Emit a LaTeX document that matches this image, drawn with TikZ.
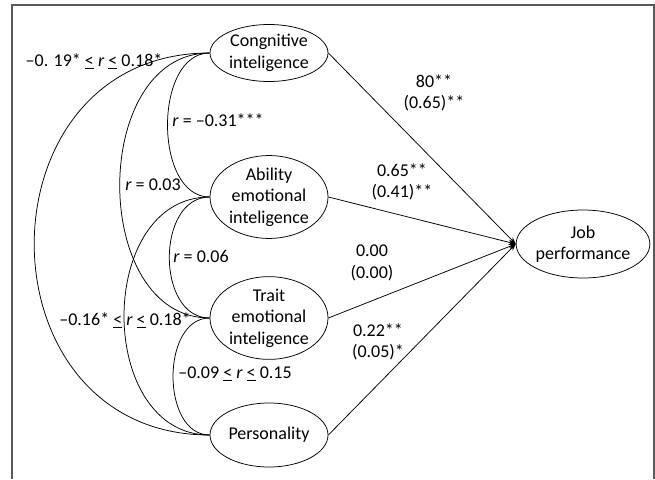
\documentclass[tikz,border=0pt]{standalone}
\usepackage{fontspec}
\setmainfont{Carlito}
\usetikzlibrary{shapes.geometric,arrows.meta}

\begin{document}
\begin{tikzpicture}[x=1pt,y=-1pt,line width=0.75pt,
  var/.style={draw,ellipse,inner sep=0pt,minimum width=118pt,align=center,font=\fontsize{18}{21.5}\selectfont},
  lab/.style={inner sep=0pt,align=center,font=\fontsize{18}{21.5}\selectfont},
  effect/.style={-{Stealth[length=7pt,width=5pt]}},
  corr/.style={out=180,in=180}]
\useasboundingbox (0,0) rectangle (655,479);
\draw[gray!70!black,line width=1.3pt] (12,479) -- (12,5) -- (654,5) -- (654,479);

\node[var,minimum height=57pt] (cog) at (269,53) {Congnitive\\inteligence};
\node[var,minimum height=80pt] (abil) at (269,197) {Ability\\emotional\\inteligence};
\node[var,minimum height=81pt] (trait) at (269,318) {Trait\\emotional\\inteligence};
\node[var,minimum height=64pt] (pers) at (269,435) {Personality};
\node[var,minimum width=119pt,minimum height=68pt] (job) at (583,244) {Job\\performance};

\node[lab] (c1) at (94,61) {–0. 19* \underline{<} \textit{r} \underline{<} 0.18*};
\node[lab] (c2) at (218,120) {\textit{r} = –0.31***};
\node[lab] (c3) at (153,185) {\textit{r} = 0.03};
\node[lab] (c4) at (201,256) {\textit{r} = 0.06};
\node[lab] (c5) at (125,320) {–0.16* \underline{<} \textit{r} \underline{<} 0.18*};
\node[lab] (c6) at (235,374) {–0.09 \underline{<} \textit{r} \underline{<} 0.15};

\node[lab] (b1) at (434,93) {80**\\(0.65)**};
\node[lab] (b2) at (402,182) {0.65**\\(0.41)**};
\node[lab] (b3) at (372,263) {0.00\\(0.00)};
\node[lab] (b4) at (378,342) {0.22**\\(0.05)*};

\draw (node cs:name=cog,anchor=west) to[corr,looseness=1] (node cs:name=abil,anchor=west);
\draw (node cs:name=cog,anchor=west) to[corr,looseness=1.16] (node cs:name=trait,anchor=west);
\draw (node cs:name=cog,anchor=west) to[corr,looseness=1.57] (node cs:name=pers,anchor=west);
\draw (node cs:name=abil,anchor=west) to[corr,looseness=1.14] (node cs:name=trait,anchor=west);
\draw (node cs:name=abil,anchor=west) to[corr,looseness=1.23] (node cs:name=pers,anchor=west);
\draw (node cs:name=trait,anchor=west) to[corr,looseness=1.07] (node cs:name=pers,anchor=west);

\draw[effect] (node cs:name=cog,anchor=east) -- (node cs:name=job,anchor=west);
\draw[effect] (node cs:name=abil,anchor=east) -- (node cs:name=job,anchor=west);
\draw[effect] (node cs:name=trait,anchor=east) -- (node cs:name=job,anchor=west);
\draw[effect] (node cs:name=pers,anchor=east) -- (node cs:name=job,anchor=west);
\end{tikzpicture}
\end{document}
